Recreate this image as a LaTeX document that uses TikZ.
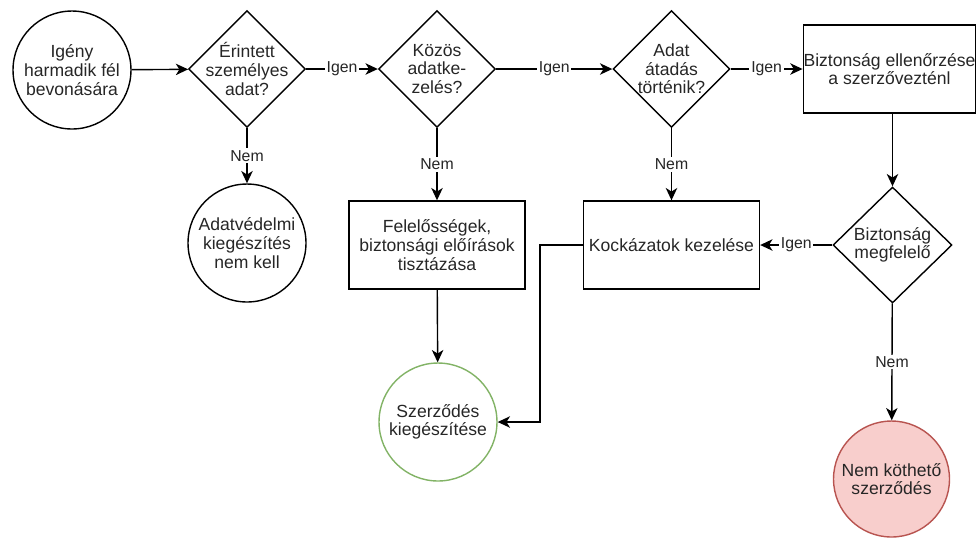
\documentclass[tikz,border=0pt]{standalone}
\usepackage{fontspec}
\setmainfont{Liberation Sans}
\usetikzlibrary{shapes.geometric,arrows.meta}
\definecolor{okgreen}{HTML}{82B366}
\definecolor{nofill}{HTML}{F8CECC}
\definecolor{nodraw}{HTML}{B85450}
\begin{document}
\begin{tikzpicture}[x=0.02cm, y=-0.02cm,
  every node/.style={font=\fontsize{10}{10.6}\selectfont, text=black!85, align=center},
  connector/.style={draw, line width=0.8pt, -{Stealth[length=7pt, width=6.5pt, inset=2pt]}},
  terminal/.style={circle, draw, line width=0.8pt, minimum size=2.36cm, inner sep=0pt},
  decision/.style={diamond, draw, line width=0.8pt, minimum width=2.34cm, minimum height=2.34cm, inner sep=0pt},
  process/.style={rectangle, draw, line width=0.8pt, minimum width=3.52cm, minimum height=1.76cm, inner sep=0pt},
  answer/.style={fill=white, inner sep=1pt, font=\fontsize{9}{9}\selectfont}]
  \useasboundingbox (0,0) rectangle (977,539);

  % top row
  \node[terminal] (igeny) at (72,70) {Igény\\harmadik fél\\bevonására};
  \node[decision, label={[align=center]center:Érintett\\személyes\\adat?}] (erintett) at (247,69) {};
  \node[decision, label={[align=center]center:Közös\\adatke-\\zelés?}] (kozos) at (437,69) {};
  \node[decision, label={[align=center]center:Adat\\átadás\\történik?}] (atadas) at (671.5,69) {};
  \node[process, minimum width=3.45cm] (ellenorzes) at (889.5,69) {Biztonság ellenőrzése\\a szerzővezténl};

  % middle row
  \node[terminal] (nemkell) at (247,243) {Adatvédelmi\\kiegészítés\\nem kell};
  \node[process] (feleloss) at (437,245) {Felelősségek,\\biztonsági előírások\\tisztázása};
  \node[process] (kockazat) at (671.5,245) {Kockázatok kezelése};
  \node[decision, minimum width=2.38cm, minimum height=2.32cm, label={[align=center]center:Biztonság\\megfelelő}] (megfelelo) at (892.5,245) {};

  % bottom row
  \node[terminal, draw=okgreen] (kiegeszit) at (438,422) {Szerződés\\kiegészítése};
  \node[terminal, draw=nodraw, fill=nofill, minimum size=2.32cm] (nemkotheto) at (891.5,479) {Nem köthető\\szerződés};

  \draw[connector] (igeny) -- (erintett);
  \draw[connector] (erintett) -- node[answer] {Igen} (kozos);
  \draw[connector] (kozos) -- node[answer] {Igen} (atadas);
  \draw[connector] (atadas) -- node[answer] {Igen} (ellenorzes);
  \draw[connector] (erintett) -- node[answer] {Nem} (nemkell);
  \draw[connector] (kozos) -- node[answer] {Nem} (feleloss);
  \draw[connector] (atadas) -- node[answer] {Nem} (kockazat);
  \draw[connector] (megfelelo.north |- ellenorzes.south) -- (megfelelo);
  \draw[connector] (megfelelo) -- node[answer] {Igen} (kockazat);
  \draw[connector] (megfelelo) -- node[answer] {Nem} (nemkotheto);
  \draw[connector] (feleloss) -- (kiegeszit);
  \draw[connector] (kockazat.west) -- ++(-43,0) |- (kiegeszit.east);
\end{tikzpicture}
\end{document}
